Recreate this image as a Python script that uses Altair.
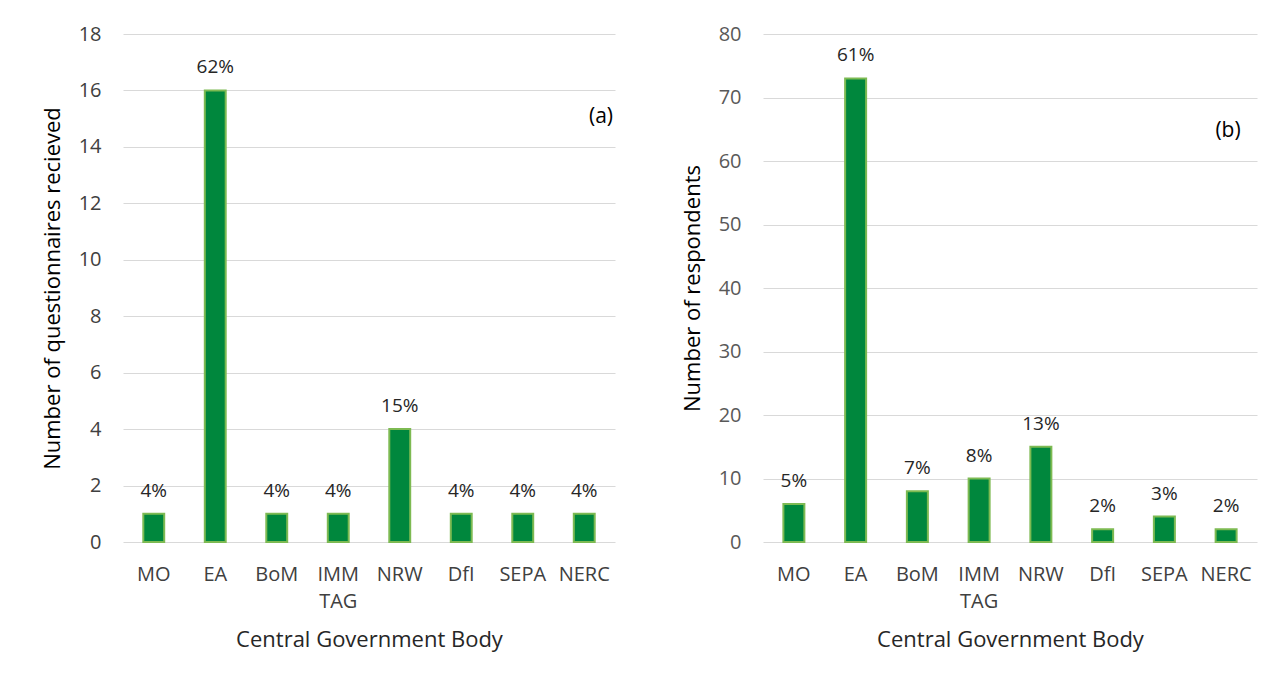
import altair as alt
import pandas as pd

categories = ["MO", "EA", "BoM", "IMM TAG", "NRW", "DfI", "SEPA", "NERC"]
questionnaires = [1, 16, 1, 1, 4, 1, 1, 1]
questionnaires_pct = ["4%", "62%", "4%", "4%", "15%", "4%", "4%", "4%"]
respondents = [6, 73, 8, 10, 15, 2, 4, 2]
respondents_pct = ["5%", "61%", "7%", "8%", "13%", "2%", "3%", "2%"]

FONT = "Open Sans"
FILL = "#00873D"
STROKE = "#7DBA52"

df_a = pd.DataFrame({"cat": categories, "val": questionnaires, "pct": questionnaires_pct})
df_b = pd.DataFrame({"cat": categories, "val": respondents, "pct": respondents_pct})

label_expr = "datum.label == 'IMM TAG' ? ['IMM', 'TAG'] : datum.label"


def panel(df, ymax, step, ytitle, tag, w, h, label_color, tag_x, tag_y):
    x = alt.X("cat:N", sort=categories,
              scale=alt.Scale(paddingInner=0.66, paddingOuter=0.33),
              axis=alt.Axis(title="Central Government Body", labelAngle=0,
                            labelExpr=label_expr, labelPadding=22,
                            labelLineHeight=27, titlePadding=18,
                            labelColor="#404040", titleColor="#262626"))
    y = alt.Y("val:Q", scale=alt.Scale(domain=[0, ymax], nice=False),
              axis=alt.Axis(title=ytitle, values=list(range(0, ymax + 1, step)),
                            labelPadding=22, titlePadding=14,
                            labelColor=label_color, titleColor="#000000"))
    bars = alt.Chart(df).mark_bar(fill=FILL, stroke=STROKE, strokeWidth=2).encode(x=x, y=y)
    text = alt.Chart(df).mark_text(baseline="bottom", dy=-13, font=FONT, fontSize=19,
                                   color="#262626").encode(
        x=alt.X("cat:N", sort=categories), y="val:Q", text="pct:N")
    tagm = alt.Chart(pd.DataFrame({"t": [tag]})).mark_text(
        font=FONT, fontSize=21, color="#000000").encode(
        x=alt.value(tag_x), y=alt.value(tag_y), text="t:N")
    return (bars + text + tagm).properties(width=w, height=h)


a = panel(df_a, 18, 2, "Number of questionnaires recieved", "(a)", 492, 508, "#404040", 478, 83)
b = panel(df_b, 80, 10, "Number of respondents", "(b)", 494, 508, "#595959", 465, 97)

chart = alt.hconcat(a, b, spacing=66).properties(
    padding={"left": 33, "top": 16, "right": 5, "bottom": 5}
).configure_view(stroke=None).configure_axis(
    labelFont=FONT, titleFont=FONT, labelFontSize=20, titleFontSize=22,
    titleFontWeight="normal", domain=False, ticks=False,
    gridColor="#D9D9D9", gridWidth=1
).configure_axisX(grid=False)

chart.save("out.html", embed_options={"renderer": "svg", "actions": False})
